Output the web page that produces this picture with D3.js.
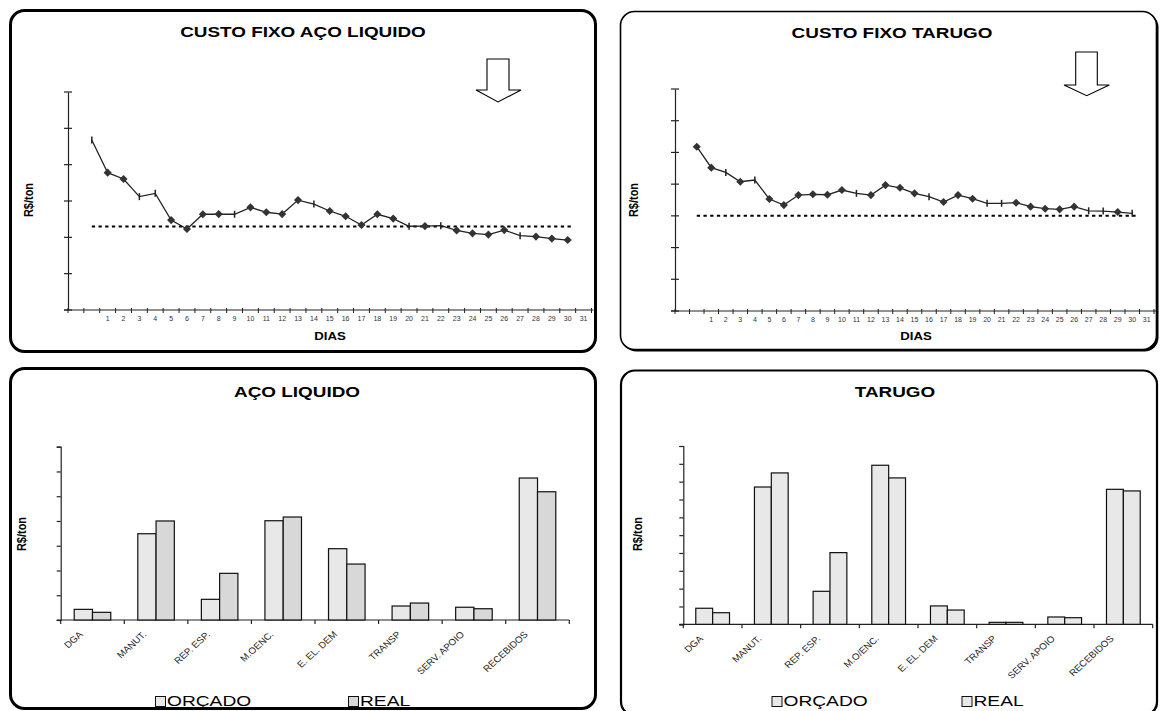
<!DOCTYPE html>
<html><head><meta charset="utf-8">
<script src="https://cdn.jsdelivr.net/npm/d3@7"></script>
<style>html,body{margin:0;padding:0;background:#fff}svg{display:block}</style>
</head><body>
<script>
// ---------- DATA ----------
const dayLabels = ["", "", "1","2","3","4","5","6","7","8","9","10","11","12","13","14","15","16","17","18","19","20","21","22","23","24","25","26","27","28","29","30","31"];
// one value per day band, starting at band index 1 (unlabelled band) through "30"
const custoFixoAco = [93.6, 75.6, 72.1, 62.4, 64.2, 49.5, 44.6, 52.7, 52.8, 52.7, 56.5, 53.8, 52.8, 60.5, 58.3, 54.5, 51.6, 46.8, 52.7, 50.3, 46.1, 46.2, 46.4, 43.8, 42.2, 41.5, 44.0, 40.9, 40.4, 39.3, 38.5];
const metaAco = [45.9];
const custoFixoTarugo = [103.6, 90.4, 87.4, 81.5, 82.6, 70.6, 66.8, 73.1, 73.6, 73.3, 76.3, 74.2, 73.1, 79.4, 77.7, 74.2, 72.1, 68.7, 73.1, 70.8, 67.9, 67.9, 68.3, 65.8, 64.5, 64.1, 65.8, 63.2, 63.0, 62.4, 61.6];
const metaTarugo = [60.1];
const yTicksCustoAco = [0, 20, 40, 60, 80, 100, 120];
const yTicksCustoTarugo = [0, 20, 40, 60, 80, 100, 120, 140];

const categoriasAco = ["DGA", "MANUT.", "REP. ESP.", "M.OENC.", "E. EL. DEM", "TRANSP", "SERV. APOIO", "RECEBIDOS"];
const categoriasTarugo = ["DGA", "MANUT.", "REP. ESP.", "M.O/ENC.", "E. EL. DEM", "TRANSP", "SERV. APOIO", "RECEBIDOS"];
const orcadoAco = [8.6, 69.7, 16.7, 80.2, 57.6, 11.3, 10.3, 114.7];
const realAco = [6.2, 80.0, 37.7, 83.2, 45.2, 13.7, 9.1, 103.6];
const orcadoTarugo = [9.0, 77.0, 18.5, 89.2, 10.3, 1.1, 4.1, 75.7];
const realTarugo = [6.5, 84.9, 40.2, 82.1, 8.0, 1.1, 3.7, 74.8];
const yTicksAco = [0, 20, 40, 60, 80, 100, 120, 140];
const yTicksTarugo = [0, 10, 20, 30, 40, 50, 60, 70, 80, 90, 100];
const seriesNames = ["ORÇADO", "REAL"];

// ---------- STYLE ----------
const FONT = "'Liberation Sans', Arial, sans-serif";
const dashMarkersAco = new Set([0, 3, 4, 9, 14, 20, 22, 27]);
const dashMarkersTarugo = new Set([2, 4, 11, 16, 20, 21, 27, 28, 30]);

const svg = d3.select("body").append("svg").attr("width", 1162).attr("height", 711);

function stext(parent, x, y, str, o) {
  o = o || {};
  let tr = `translate(${x},${y}) scale(${o.sx || 1},1)`;
  if (o.rotate) tr += ` rotate(${o.rotate})`;
  return parent.append("text").text(str)
    .attr("transform", tr)
    .attr("font-family", FONT)
    .attr("font-size", o.size || 12)
    .attr("font-weight", o.weight || "normal")
    .attr("text-anchor", o.anchor || "middle")
    .attr("fill", o.fill || "#000");
}

function panel(x, y, w, h, sw, shadow) {
  if (shadow) {
    svg.append("rect").attr("x", x + shadow).attr("y", y + shadow).attr("width", w).attr("height", h)
      .attr("rx", 14).attr("fill", "#000");
  }
  svg.append("rect").attr("x", x).attr("y", y).attr("width", w).attr("height", h)
    .attr("rx", 14).attr("fill", "#fff").attr("stroke", "#000").attr("stroke-width", sw);
}

// panels
panel(10.5, 10.5, 585, 341, 3, 0);
panel(620.5, 11.5, 536, 338, 1.6, 2);
panel(10.5, 368.5, 585, 340, 3, 0);
panel(621, 370.5, 536, 345, 2.2, 1);

// ---------- LINE CHARTS ----------
function lineChart(cfg) {
  const g = svg.append("g");
  const x = d3.scaleBand().domain(d3.range(dayLabels.length)).range([cfg.x0, cfg.x1]).padding(0);
  const y = d3.scaleLinear().domain([0, cfg.yTicks[cfg.yTicks.length - 1]]).range([cfg.yb, cfg.yt]);
  const step = x.step();

  // y axis
  const ya = d3.axisLeft(y).tickValues(cfg.yTicks).tickSize(0).tickFormat("");
  g.append("g").attr("transform", `translate(${cfg.x0},0)`).call(ya)
    .call(s => s.select(".domain").attr("stroke", "#222").attr("stroke-width", 1.2));
  g.selectAll(".yt").data(cfg.yTicks).join("line")
    .attr("x1", cfg.x0 - 4).attr("x2", cfg.x0 + 4)
    .attr("y1", d => y(d)).attr("y2", d => y(d)).attr("stroke", "#222").attr("stroke-width", 1.2);

  // x axis
  g.append("line").attr("x1", cfg.x0 - 4).attr("x2", cfg.x1 + 2).attr("y1", cfg.yb).attr("y2", cfg.yb)
    .attr("stroke", "#222").attr("stroke-width", 1.2);
  g.selectAll(".xt").data(d3.range(dayLabels.length + 1)).join("line")
    .attr("x1", i => cfg.x0 + i * step).attr("x2", i => cfg.x0 + i * step)
    .attr("y1", cfg.yb - 2).attr("y2", cfg.yb + 3).attr("stroke", "#222").attr("stroke-width", 1);
  dayLabels.forEach((lab, i) => {
    if (lab) stext(g, x(i) + step / 2, cfg.yb + 11, lab, { size: 6.5, sx: 1.08, fill: "#333" });
  });

  // target dotted line
  const xs = cfg.data.map((d, i) => x(i + 1) + step / 2);
  g.append("line").attr("x1", xs[0]).attr("x2", xs[xs.length - 1] + 4)
    .attr("y1", y(cfg.meta[0])).attr("y2", y(cfg.meta[0]))
    .attr("stroke", "#000").attr("stroke-width", 2).attr("stroke-dasharray", "3.3,3.4");

  // series line
  const line = d3.line().x((d, i) => x(i + 1) + step / 2).y(d => y(d));
  g.append("path").datum(cfg.data).attr("d", line).attr("fill", "none")
    .attr("stroke", "#222").attr("stroke-width", 1.3);

  // markers
  cfg.data.forEach((d, i) => {
    const cx = x(i + 1) + step / 2, cy = y(d);
    if (cfg.dash.has(i)) {
      g.append("line").attr("x1", cx).attr("x2", cx).attr("y1", cy - 3.5).attr("y2", cy + 3.5)
        .attr("stroke", "#222").attr("stroke-width", 1.5);
    } else {
      g.append("path").attr("d", d3.symbol(d3.symbolDiamond2, 42)())
        .attr("transform", `translate(${cx},${cy})`).attr("fill", "#333");
    }
  });

  // arrow
  const a = cfg.arrow;
  g.append("polygon").attr("points", a.map(p => p.join(",")).join(" "))
    .attr("fill", "#fff").attr("stroke", "#000").attr("stroke-width", 1.1);

  stext(g, cfg.titleX, cfg.titleY, cfg.title, { size: 14, weight: "bold", sx: 1.35 });
  stext(g, cfg.diasX, 340, "DIAS", { size: 11, weight: "bold", sx: 1.2 });
  stext(g, cfg.ylabX, 200, "R$/ton", { size: 11, weight: "bold", sx: 1.2, rotate: -90 });
}

lineChart({
  x0: 68, x1: 591.5, yb: 310, yt: 92, yTicks: yTicksCustoAco,
  data: custoFixoAco, meta: metaAco, dash: dashMarkersAco,
  arrow: [[487, 59], [509, 59], [509, 90], [521, 90], [498, 102], [476, 90], [487, 90]],
  title: "CUSTO FIXO AÇO LIQUIDO", titleX: 303, titleY: 37, diasX: 330, ylabX: 32.5
});
lineChart({
  x0: 675, x1: 1154, yb: 311, yt: 89, yTicks: yTicksCustoTarugo,
  data: custoFixoTarugo, meta: metaTarugo, dash: dashMarkersTarugo,
  arrow: [[1075.7, 52], [1097.3, 52], [1097.3, 85], [1109.3, 85], [1086.7, 95.7], [1064, 85], [1075.7, 85]],
  title: "CUSTO FIXO TARUGO", titleX: 892, titleY: 38, diasX: 916, ylabX: 637.5
});

// ---------- BAR CHARTS ----------
function barChart(cfg) {
  const g = svg.append("g");
  const x = d3.scaleBand().domain(cfg.cats).range([cfg.x0, cfg.x1]).paddingInner(0.425).paddingOuter(0.2125);
  const xs = d3.scaleBand().domain(seriesNames).range([0, x.bandwidth()]);
  const y = d3.scaleLinear().domain([0, cfg.yTicks[cfg.yTicks.length - 1]]).range([cfg.yb, cfg.yt]);
  const step = x.step();

  const ya = d3.axisLeft(y).tickValues(cfg.yTicks).tickSize(4).tickFormat("");
  g.append("g").attr("transform", `translate(${cfg.x0},0)`).call(ya)
    .call(s => s.selectAll("path,line").attr("stroke", "#222").attr("stroke-width", 1.2));

  g.append("line").attr("x1", cfg.x0 - 4).attr("x2", cfg.x1).attr("y1", cfg.yb).attr("y2", cfg.yb)
    .attr("stroke", "#222").attr("stroke-width", 1.2);
  g.selectAll(".xt").data(d3.range(cfg.cats.length + 1)).join("line")
    .attr("x1", i => cfg.x0 + i * step).attr("x2", i => cfg.x0 + i * step)
    .attr("y1", cfg.yb).attr("y2", cfg.yb + 4).attr("stroke", "#222").attr("stroke-width", 1.2);

  const series = [cfg.orcado, cfg.real];
  series.forEach((vals, si) => {
    g.selectAll(null).data(vals).join("rect")
      .attr("x", (d, i) => x(cfg.cats[i]) + xs(seriesNames[si]))
      .attr("width", xs.bandwidth())
      .attr("y", d => y(d))
      .attr("height", d => cfg.yb - y(d))
      .attr("fill", cfg.colors[si]).attr("stroke", "#111").attr("stroke-width", 1.2);
  });

  cfg.cats.forEach(c => {
    stext(g, x(c) + x.bandwidth() / 2 - 9, cfg.yb + 15, c, { size: 9, anchor: "end", sx: 1.1, rotate: -45, fill: "#222" });
  });

  stext(g, cfg.titleX, 397, cfg.title, { size: 14, weight: "bold", sx: 1.35 });
  stext(g, cfg.ylabX, 534, "R$/ton", { size: 11, weight: "bold", sx: 1.2, rotate: -90 });

  // legend
  seriesNames.forEach((n, si) => {
    const lx = cfg.legX[si];
    g.append("rect").attr("x", lx + 0.5).attr("y", 696.5).attr("width", 10).attr("height", 10)
      .attr("fill", cfg.colors[si]).attr("stroke", "#111").attr("stroke-width", 1);
    stext(g, lx + 12, 706, n, { size: 14, anchor: "start", sx: 1.37 });
  });
}

barChart({
  x0: 60.7, x1: 569.3, yb: 620, yt: 446.7, yTicks: yTicksAco, cats: categoriasAco,
  orcado: orcadoAco, real: realAco, colors: ["#e8e8e8", "#d8d8d8"],
  title: "AÇO LIQUIDO", titleX: 297, ylabX: 25.5, legX: [155, 348]
});
barChart({
  x0: 683.3, x1: 1152.7, yb: 624.3, yt: 446, yTicks: yTicksTarugo, cats: categoriasTarugo,
  orcado: orcadoTarugo, real: realTarugo, colors: ["#e8e8e8", "#e8e8e8"],
  title: "TARUGO", titleX: 895, ylabX: 642, legX: [771.5, 961.5]
});
</script>
</body></html>
